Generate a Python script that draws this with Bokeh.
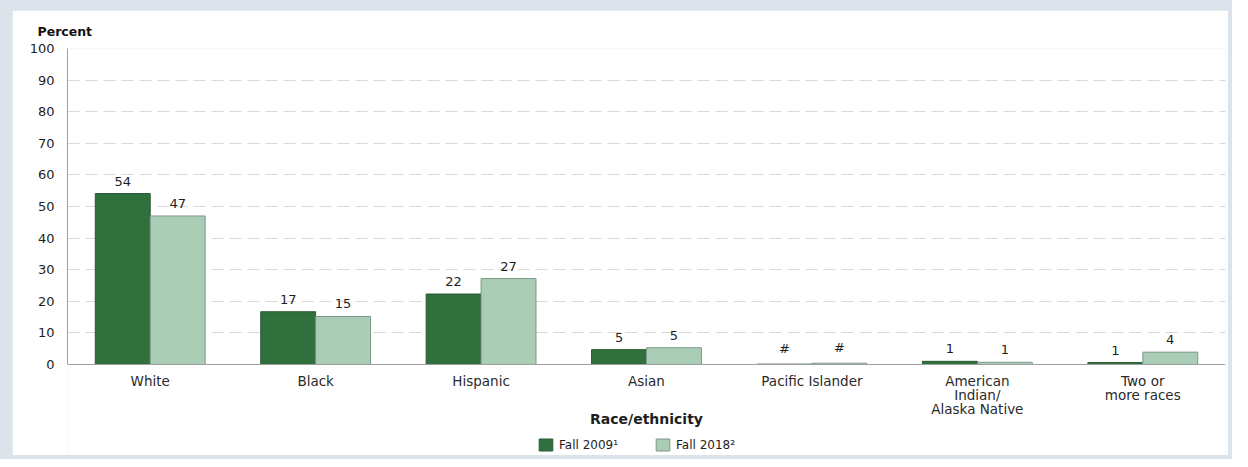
from bokeh.plotting import figure
from bokeh.models import (ColumnDataSource, FactorRange, Legend, LegendItem,
                          FixedTicker, Span, Range1d)
from bokeh.transform import dodge
from bokeh.core.properties import value
from bokeh.layouts import column
from bokeh.embed import file_html
from bokeh.resources import INLINE

categories = ["White", "Black", "Hispanic", "Asian", "Pacific Islander",
              "American\nIndian/\nAlaska Native", "Two or\nmore races"]
fall_2009 = [54.1, 16.7, 22.3, 4.7, 0.1, 1.0, 0.6]
fall_2018 = [47.0, 15.2, 27.2, 5.3, 0.4, 0.7, 3.9]
labels_2009 = ["54", "17", "22", "5", "#", "1", "1"]
labels_2018 = ["47", "15", "27", "5", "#", "1", "4"]
y_ticks = [0, 10, 20, 30, 40, 50, 60, 70, 80, 90, 100]
series_names = ["Fall 2009\u00b9", "Fall 2018\u00b2"]
x_title = "Race/ethnicity"
y_title = "Percent"

FONT = "DejaVu Sans"
DARK = "#2f703c"
LIGHT = "#a9cdb5"
TXT = "#1e1e1e"

src = ColumnDataSource(dict(cat=categories, v09=fall_2009, v18=fall_2018,
                            l09=labels_2009, l18=labels_2018,
                            base=[0] * len(categories)))

p = figure(x_range=FactorRange(*categories), y_range=Range1d(-28.8, 100),
           width=1216, height=445, output_backend="svg", toolbar_location=None,
           min_border_left=55, min_border_right=3, min_border_top=38,
           min_border_bottom=0)
p.background_fill_color = "white"
p.border_fill_color = "white"
p.outline_line_color = None

p.title.text = y_title
p.title.text_font = FONT
p.title.text_font_size = "12.5px"
p.title.text_font_style = "bold"
p.title.text_color = "#111111"
p.title.align = "left"
p.title.offset = -30
p.title.standoff = 20

W = 0.332
off = W / 2
r09 = p.vbar(x=dodge("cat", -off, range=p.x_range), top="v09", width=W, source=src,
             fill_color=DARK, line_color="#2a5a35", line_width=1)
r18 = p.vbar(x=dodge("cat", off, range=p.x_range), top="v18", width=W, source=src,
             fill_color=LIGHT, line_color="#7d978a", line_width=1)

p.text(x=dodge("cat", -off, range=p.x_range), y="v09", text="l09", source=src,
       text_align="center", text_baseline="bottom", y_offset=-8,
       text_font=value(FONT), text_font_size="13px", text_color=TXT)
p.text(x=dodge("cat", off, range=p.x_range), y="v18", text="l18", source=src,
       text_align="center", text_baseline="bottom", y_offset=-8,
       text_font=value(FONT), text_font_size="13px", text_color=TXT)

# category labels under the baseline
p.text(x="cat", y="base", text="cat", source=src,
       text_align="center", text_baseline="top", y_offset=9,
       text_line_height=0.85,
       text_font=value(FONT), text_font_size="13.5px", text_color="#2a2a2a")

# x-axis title
p.text(x=[categories[3]], y=[0], text=[x_title],
       text_align="center", text_baseline="middle", y_offset=55,
       text_font=value(FONT), text_font_size="14px", text_font_style="bold",
       text_color=TXT)

p.add_layout(Span(location=0, dimension="width", line_color="#a0a0a0", line_width=1))

p.xaxis.visible = False
p.xgrid.grid_line_color = None
p.ygrid.grid_line_color = "#d9d9d9"
p.ygrid.grid_line_dash = "12 6"
p.ygrid.ticker = FixedTicker(ticks=y_ticks[1:])

p.yaxis.ticker = FixedTicker(ticks=y_ticks)
p.yaxis.bounds = (0, 100)
p.yaxis.axis_line_color = "#a0a0a0"
p.yaxis.major_tick_line_color = None
p.yaxis.minor_tick_line_color = None
p.yaxis.major_label_text_font = FONT
p.yaxis.major_label_text_font_size = "13px"
p.yaxis.major_label_text_color = TXT
p.yaxis.major_label_standoff = 7

legend = Legend(items=[LegendItem(label=series_names[0], renderers=[r09]),
                       LegendItem(label=series_names[1], renderers=[r18])],
                orientation="horizontal", location=(470, 3),
                label_text_font=FONT, label_text_font_size="12px",
                label_text_color=TXT, glyph_width=17, glyph_height=15,
                spacing=36, label_standoff=5, border_line_color=None,
                background_fill_alpha=0, padding=0, margin=0)
p.add_layout(legend)

layout = column(p, styles={"background-color": "#dde3ea",
                           "padding": "10px 4px 4px 12px"})

open("out.html", "w").write(file_html(layout, INLINE))
